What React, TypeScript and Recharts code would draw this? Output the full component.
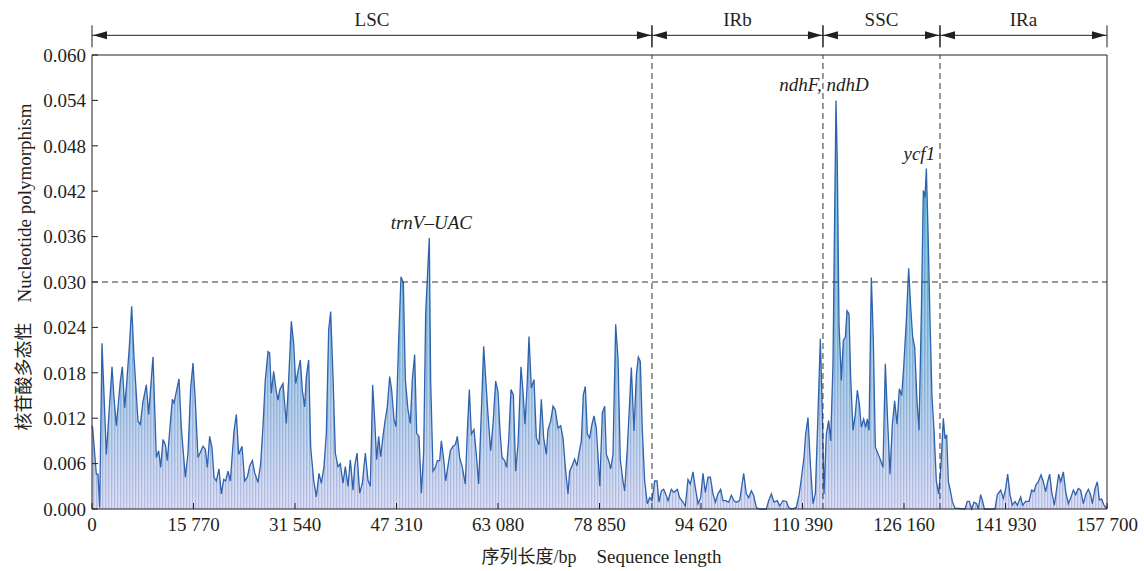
import { Area, AreaChart, Label, ReferenceDot, ReferenceLine, XAxis, YAxis } from 'recharts';

const FONT = "'Liberation Serif', 'Times New Roman', 'Noto Sans CJK SC', serif";
const INK = '#231f20';

// sliding-window π, [position (bp), π]
const lsc: [number, number][] = [
  [0, 0.011], [104, 0.0107], [674, 0.0046], [933, 0.0046], [1192, 0.0002], [1554, 0.0219],
  [2228, 0.0072], [3108, 0.0188], [3419, 0.0147], [3781, 0.011], [4403, 0.0169], [4713, 0.0188],
  [5076, 0.0134], [5387, 0.0166], [5853, 0.0221], [6163, 0.0268], [6526, 0.0201], [7148, 0.0116],
  [7510, 0.0112], [7924, 0.0142], [8442, 0.0164], [8805, 0.0125], [9478, 0.0201], [9996, 0.0068],
  [10358, 0.0077], [10669, 0.0055], [11032, 0.0092], [11394, 0.0085], [11705, 0.0064], [12068, 0.0103],
  [12482, 0.0145], [12741, 0.014], [13103, 0.0155], [13518, 0.0172], [13880, 0.0107], [14502, 0.0042],
  [14916, 0.0074], [15330, 0.016], [15693, 0.0193], [16055, 0.0142], [16470, 0.0068], [17247, 0.0083],
  [17609, 0.0079], [17920, 0.0055], [18282, 0.0096], [18645, 0.0081], [18956, 0.0042], [19318, 0.0037],
  [19732, 0.0053], [20095, 0.002], [20457, 0.0039], [20768, 0.0037], [21131, 0.005], [21493, 0.0037],
  [22063, 0.0103], [22426, 0.0125], [22788, 0.0072], [23306, 0.0083], [23720, 0.0037], [24135, 0.0042],
  [24497, 0.0057], [24911, 0.0064], [25274, 0.0048], [25792, 0.0035], [26206, 0.006], [26569, 0.011],
  [26930, 0.0171], [27345, 0.0208], [27604, 0.0206], [27863, 0.0153], [28225, 0.0182], [28639, 0.0155],
  [28898, 0.0144], [29157, 0.0157], [29416, 0.0162], [29675, 0.0166], [30193, 0.0113], [30556, 0.0171],
  [30970, 0.0248], [31333, 0.0219], [31643, 0.0166], [32006, 0.0182], [32369, 0.0197], [32679, 0.0157],
  [33042, 0.0135], [33301, 0.0175], [33663, 0.0197], [33974, 0.0082], [34440, 0.0038], [34854, 0.0016],
  [35269, 0.0047], [35631, 0.0034], [36045, 0.0056], [36408, 0.01], [36771, 0.0237], [37081, 0.0261],
  [37444, 0.0175], [37807, 0.0074], [38221, 0.0056], [38583, 0.006], [38998, 0.0034], [39360, 0.0056],
  [39774, 0.003], [40137, 0.0065], [40551, 0.0025], [40810, 0.0056], [41173, 0.0074], [41587, 0.0021],
  [42002, 0.0034], [42468, 0.0074], [42882, 0.0038], [43245, 0.003], [43607, 0.0164], [43918, 0.0118],
  [44229, 0.0065], [44540, 0.0096], [44850, 0.0069], [45213, 0.0096], [45524, 0.0116], [45886, 0.0135],
  [46249, 0.0175], [46560, 0.0157], [46922, 0.0118], [47233, 0.0109], [47647, 0.0224], [48010, 0.0307],
  [48372, 0.0299], [48683, 0.0171], [49097, 0.0131], [49460, 0.0113], [49771, 0.0171], [50133, 0.0204],
  [50444, 0.01], [50806, 0.0096], [51169, 0.0021], [51531, 0.0074], [51842, 0.0259], [52406, 0.0358],
  [52618, 0.0169], [52981, 0.005], [53343, 0.0055], [53654, 0.0064], [54017, 0.0064], [54276, 0.009],
  [54638, 0.0066], [54949, 0.0037], [55311, 0.0057], [55674, 0.0077], [56088, 0.0083], [56451, 0.0085],
  [56762, 0.0096], [57124, 0.0068], [57538, 0.0055], [58004, 0.0033], [58315, 0.0103], [58626, 0.0158],
  [58937, 0.0099], [59351, 0.0105], [59714, 0.0072], [60076, 0.0033], [60387, 0.0103], [60853, 0.0215],
  [61164, 0.0173], [61526, 0.0125], [61941, 0.0077], [62303, 0.0112], [62717, 0.0169], [63080, 0.0155],
  [63391, 0.0103], [63702, 0.0068], [64116, 0.0064], [64426, 0.0055], [64737, 0.009], [65100, 0.0158],
  [65462, 0.0151], [65825, 0.005], [66187, 0.0085], [66653, 0.0188], [66964, 0.0155], [67275, 0.0112],
  [67586, 0.016], [67896, 0.0228], [68259, 0.016], [68673, 0.0171], [69036, 0.0094], [69450, 0.0085],
  [69813, 0.0145], [70175, 0.0094], [70590, 0.0072], [70848, 0.0105], [71263, 0.0116], [71625, 0.0136],
  [71988, 0.0131], [72402, 0.0107], [72816, 0.011], [73179, 0.0094], [73541, 0.0055], [73956, 0.002],
  [74215, 0.005], [74577, 0.0057], [74992, 0.0066], [75354, 0.0057], [75665, 0.0074], [76027, 0.009],
  [76338, 0.0151], [76649, 0.0162], [76960, 0.0099], [77322, 0.0094], [77685, 0.0112], [77995, 0.0123],
  [78358, 0.0107], [78900, 0.003], [79290, 0.0127], [79653, 0.0136], [79912, 0.0072], [80274, 0.0064],
  [80585, 0.0053], [80948, 0.0072], [81362, 0.0244], [81724, 0.0199], [82087, 0.0064], [82501, 0.0037],
  [82760, 0.0024], [83175, 0.0081], [83537, 0.0142], [83796, 0.0187], [84210, 0.0103], [84573, 0.0177],
  [84884, 0.0201], [85194, 0.0195], [85505, 0.0103], [85868, 0.0037], [86282, 0.0007], [86645, 0.0015],
];

const irb: [number, number][] = [
  [87007, 0.0011], [87421, 0.0037], [87784, 0.0037], [88095, 0.0009], [88457, 0.0024], [88820, 0.0026],
  [89130, 0.002], [89493, 0.0011], [90011, 0.0026], [90425, 0.0022], [90943, 0.0026], [91306, 0.0015],
  [91823, 0.0009], [92186, 0.0004], [92600, 0.0039], [92963, 0.0033], [93377, 0.0049], [93740, 0.0028],
  [94154, 0.0007], [94568, 0.0015], [94931, 0.0047], [95293, 0.0022], [95708, 0.0042], [96070, 0.0042],
  [96485, 0.002], [96847, 0.0009], [97261, 0.002], [97676, 0.0026], [98038, 0.0011], [98453, 0.0011],
  [98919, 0.0009], [99333, 0.0018], [99747, 0.0011], [100110, 0.0009], [100628, 0.0011], [101249, 0.0047],
  [101664, 0.002], [102026, 0.0015], [102440, 0.0024], [102803, 0.0018], [103217, 0.0002], [103735, 0],
  [104253, 0], [104771, 0], [105134, 0.0011], [105548, 0.002], [105962, 0.0009], [106480, 0.0011],
  [106843, 0.0004], [107361, 0.0011], [107878, 0.001], [108241, 0.0002], [108759, 0], [109432, 0.0002],
  [109846, 0.0018], [110209, 0.004], [110623, 0.0068], [110882, 0.0099], [111245, 0.0121], [111607, 0.006],
  [112022, 0.0007], [112384, 0.002], [112799, 0.0126], [113161, 0.0225], [113472, 0.0126],
];

const ssc: [number, number][] = [
  [113731, 0.002], [114093, 0.0099], [114456, 0.0117], [114767, 0.009], [115129, 0.0192], [115388, 0.039],
  [115595, 0.054], [115802, 0.0456], [116061, 0.0245], [116424, 0.017], [116735, 0.0223], [117045, 0.0227],
  [117304, 0.0262], [117615, 0.0258], [117874, 0.0174], [118236, 0.0104], [118599, 0.0126], [118910, 0.0157],
  [119220, 0.0139], [119531, 0.0108], [119894, 0.0119], [120205, 0.0108], [120464, 0.0119], [120723, 0.0104],
  [121085, 0.0306], [121396, 0.0223], [121707, 0.0082], [122121, 0.0073], [122535, 0.0064], [122898, 0.0055],
  [123260, 0.0192], [123571, 0.0126], [123985, 0.0046], [124348, 0.0112], [124710, 0.0143], [125073, 0.0112],
  [125436, 0.0159], [125798, 0.015], [126109, 0.0187], [126523, 0.0249], [126886, 0.0318], [127197, 0.0267],
  [127507, 0.0227], [127818, 0.0214], [128181, 0.0143], [128491, 0.0104], [128854, 0.0258], [129165, 0.0421],
  [129424, 0.0412], [129631, 0.045], [129890, 0.0368], [130201, 0.0249], [130511, 0.0148], [130822, 0.0104],
  [131185, 0.0037], [131547, 0.002],
];

const ira: [number, number][] = [
  [131909, 0.0058], [132272, 0.012], [132531, 0.0093], [132790, 0.0098], [133049, 0.0036], [133308, 0.0027],
  [133670, 0.001], [134084, 0.0001], [135638, 0], [136001, 0.001], [136311, 0.001], [136674, 0],
  [137036, 0.0009], [137451, 0.0007], [137710, 0], [138072, 0.0019], [138383, 0.001], [138642, 0],
  [140299, 0], [140662, 0.0019], [141180, 0.0025], [141594, 0.0014], [141957, 0.0027], [142267, 0.0046],
  [142630, 0.0019], [142992, 0.0005], [143407, 0.001], [143769, 0.0005], [144287, 0.0016], [144598, 0.0005],
  [145064, 0.001], [145582, 0.001], [145996, 0.0025], [146359, 0.0023], [146670, 0.0032], [147032, 0.0036],
  [147446, 0.0045], [147809, 0.0036], [148171, 0.0023], [148482, 0.0036], [148793, 0.0046], [149104, 0.0023],
  [149518, 0.0005], [149881, 0.0027], [150191, 0.0046], [150502, 0.0036], [150917, 0.0049], [151279, 0.0023],
  [151693, 0.0007], [152108, 0.0016], [152470, 0.0025], [152833, 0.0019], [153247, 0.0027], [153610, 0.0025],
  [154024, 0.0007], [154386, 0.0019], [154801, 0.0026], [155163, 0.0019], [155422, 0.0007], [155837, 0.0027],
  [156199, 0.0036], [156510, 0.0012], [156872, 0.0013], [157235, 0.0005], [157547, 0.0002], [157700, 0.0002],
];

const regions = [
  { name: 'LSC', from: 0, to: 87000 },
  { name: 'IRb', from: 87000, to: 113570 },
  { name: 'SSC', from: 113570, to: 131750 },
  { name: 'IRa', from: 131750, to: 157700 },
];
const boundaries = [87000, 113570, 131750];

const hotspots = [
  { gene: 'trnV–UAC', site: 52406, pi: 0.0358, dx: 2 },
  { gene: 'ndhF, ndhD', site: 115595, pi: 0.054, dx: -12 },
  { gene: 'ycf1', site: 129631, pi: 0.045, dx: -7 },
];

const xTicks = [0, 15770, 31540, 47310, 63080, 78850, 94620, 110390, 126160, 141930, 157700];
const yTicks = [0, 0.006, 0.012, 0.018, 0.024, 0.03, 0.036, 0.042, 0.048, 0.054, 0.06];

const samples = [...lsc, ...irb, ...ssc, ...ira].map(([site, pi]) => ({ site, pi }));

const groupDigits = (v: number) => String(v).replace(/\B(?=(\d{3})+(?!\d))/g, ' ');

function SpanArrow(props: any) {
  const { x1, x2, y1 } = props;
  const head = 14;
  return (
    <g stroke={INK} fill={INK}>
      <line x1={x1} x2={x2} y1={y1} y2={y1} strokeWidth={1} />
      <line x1={x1} x2={x1} y1={y1 - 10} y2={y1 + 12} strokeWidth={1} />
      <line x1={x2} x2={x2} y1={y1 - 10} y2={y1 + 12} strokeWidth={1} />
      <polygon points={`${x1 + 1},${y1} ${x1 + 1 + head},${y1 - 4} ${x1 + 1 + head},${y1 + 4}`} stroke="none" />
      <polygon points={`${x2 - 1},${y1} ${x2 - 1 - head},${y1 - 4} ${x2 - 1 - head},${y1 + 4}`} stroke="none" />
    </g>
  );
}

const peakLabel = (text: string, dx: number) => (p: any) => {
  const vb = p.viewBox;
  return (
    <text x={vb.x + dx} y={vb.y - 9} textAnchor="middle" fontFamily={FONT} fontStyle="italic" fontSize={19} fill={INK}>
      {text}
    </text>
  );
};

function YTitle(p: any) {
  const vb = p.viewBox;
  const cy = vb.y + vb.height / 2 - 15;
  return (
    <text
      transform={`translate(24, ${cy}) rotate(-90)`}
      textAnchor="middle"
      dominantBaseline="central"
      fontFamily={FONT}
      fontSize={19}
      fill={INK}
    >
      <tspan fontSize={18}>核苷酸多态性</tspan>
      <tspan dx={20}>Nucleotide polymorphism</tspan>
    </text>
  );
}

function XTitle(p: any) {
  const vb = p.viewBox;
  return (
    <text x={vb.x + vb.width / 2 + 2} y={563} textAnchor="middle" fontFamily={FONT} fontSize={19} fill={INK}>
      <tspan fontSize={18}>序列长度/bp</tspan>
      <tspan dx={20}>Sequence length</tspan>
    </text>
  );
}

const tickStyle = { fill: INK, fontSize: 19, fontFamily: FONT };

export default function App() {
  return (
    <div style={{ position: 'absolute', left: 0, top: 0, background: '#fff', fontFamily: FONT }}>
      <AreaChart width={1144} height={571} data={samples} margin={{ top: 55, right: 37, bottom: 22, left: 32 }}>
        <defs>
          <linearGradient id="piFill" x1="0" y1="0" x2="0" y2="1">
            <stop offset="0%" stopColor="#3d8cc8" />
            <stop offset="30%" stopColor="#66bdd9" />
            <stop offset="70%" stopColor="#9fc4e3" />
            <stop offset="100%" stopColor="#d4d6f0" />
          </linearGradient>
          <pattern id="piStripes" width="3" height="6" patternUnits="userSpaceOnUse">
            <rect x="0" y="0" width="1" height="6" fill="#4f66b6" fillOpacity="0.22" />
            <rect x="2" y="0" width="1" height="6" fill="#ffffff" fillOpacity="0.22" />
          </pattern>
        </defs>
        <XAxis
          dataKey="site"
          type="number"
          domain={[0, 157700]}
          ticks={xTicks}
          interval={0}
          tickFormatter={groupDigits}
          height={40}
          tickSize={-6}
          tickMargin={15}
          axisLine={{ stroke: INK }}
          tickLine={{ stroke: INK }}
          tick={tickStyle}
        >
          <Label content={XTitle} />
        </XAxis>
        <YAxis
          type="number"
          domain={[0, 0.06]}
          ticks={yTicks}
          interval={0}
          tickFormatter={(v: number) => v.toFixed(3)}
          width={60}
          tickSize={-6}
          tickMargin={12}
          axisLine={{ stroke: INK }}
          tickLine={{ stroke: INK }}
          tick={tickStyle}
        >
          <Label content={YTitle} />
        </YAxis>
        <Area
          type="linear"
          dataKey="pi"
          stroke="none"
          fill="url(#piFill)"
          fillOpacity={1}
          dot={false}
          activeDot={false}
          isAnimationActive={false}
        />
        <Area
          type="linear"
          dataKey="pi"
          stroke="#2e62ad"
          strokeWidth={1.3}
          fill="url(#piStripes)"
          fillOpacity={1}
          dot={false}
          activeDot={false}
          isAnimationActive={false}
        />
        <ReferenceLine y={0.06} stroke={INK} />
        <ReferenceLine x={157700} stroke={INK} />
        <ReferenceLine y={0.03} stroke="#333" strokeDasharray="6 4" />
        {boundaries.map((b) => (
          <ReferenceLine key={b} x={b} stroke="#333" strokeDasharray="6 4" />
        ))}
        {regions.map((r) => (
          <ReferenceLine
            key={r.name}
            segment={[{ x: r.from, y: 0.0626 }, { x: r.to, y: 0.0626 }]}
            ifOverflow="visible"
            shape={SpanArrow}
            label={{ value: r.name, position: 'top', offset: 9, fill: INK, fontSize: 19, fontFamily: FONT }}
          />
        ))}
        {hotspots.map((h) => (
          <ReferenceDot key={h.gene} x={h.site} y={h.pi} r={0} stroke="none" label={peakLabel(h.gene, h.dx)} />
        ))}
      </AreaChart>
    </div>
  );
}
